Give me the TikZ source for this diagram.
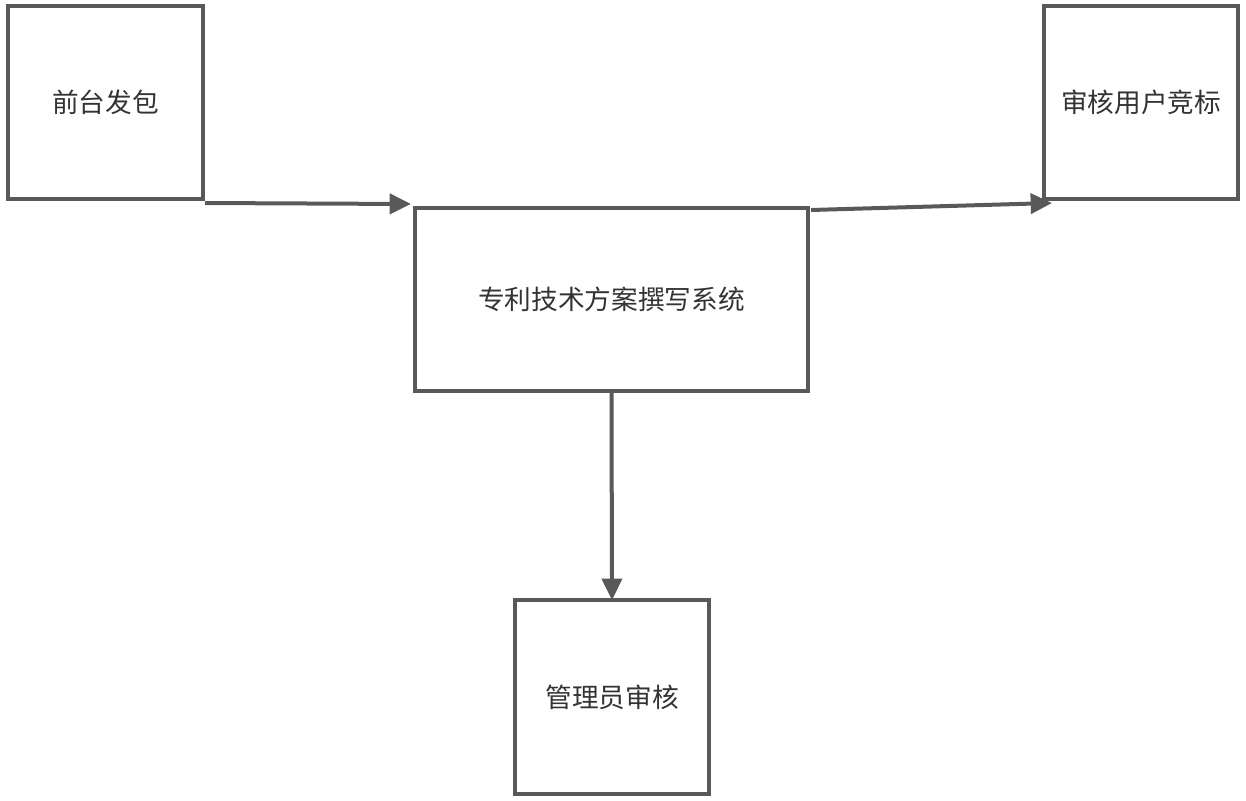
\documentclass[tikz,border=0pt]{standalone}
\usepackage{fontspec}
\setmainfont{Noto Sans CJK SC}
\usetikzlibrary{arrows.meta,calc}
\definecolor{edge}{HTML}{595959}
\definecolor{txt}{HTML}{333333}
\tikzset{
  box/.style={draw=edge, line width=3pt, fill=white, rectangle, inner sep=0pt, outer sep=0pt,
    font=\fontsize{20pt}{24pt}\selectfont, text=txt},
  conn/.style={draw=edge, line width=3pt, -{Triangle[length=16pt,width=15pt]}}
}
\begin{document}
\begin{tikzpicture}[x=0.75pt,y=-0.75pt]
\useasboundingbox (0,0) rectangle (1246,800);
\node[box, minimum width=195*0.75pt, minimum height=193*0.75pt] (A) at (105.5,102.5) {前台发包};
\node[box, minimum width=393*0.75pt, minimum height=183*0.75pt] (B) at (611.5,299.5) {专利技术方案撰写系统};
\node[box, minimum width=194*0.75pt, minimum height=193*0.75pt] (C) at (1141,102.5) {审核用户竞标};
\node[box, minimum width=194*0.75pt, minimum height=194*0.75pt] (D) at (612,697) {管理员审核};
\draw[conn] ($(A.south east)+(2,4)$) -- ($(B.north west)+(-4,-4)$);
\draw[conn] ($(B.north east)+(3,2)$) -- ($(C.south west)+(8,4)$);
\draw[conn] (B.south) -- (D.north);
\end{tikzpicture}
\end{document}
